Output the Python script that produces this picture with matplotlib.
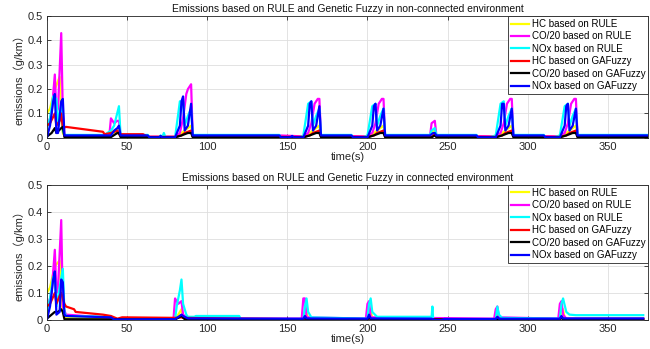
import matplotlib
matplotlib.use("Agg")
import matplotlib.pyplot as plt

plt.rcParams['font.family'] = ['Liberation Sans', 'Noto Sans CJK SC']

# (time s, value g/km) breakpoints
# ---- non-connected environment ----
hc_rule_nc = [(0, .10), (2, .12), (5, .20), (8, .25), (9, .08), (10, .02), (11, .008), (39, .008), (40, .03), (43, .02),
              (45, .04), (46, .008), (63, .004), (80, .004), (84, .02), (86, .03), (88, .04), (90, .05), (91, .006),
              (145, .006), (160, .004), (164, .02), (166, .03), (168, .04), (170, .05), (171, .006), (199, .004),
              (204, .02), (206, .03), (208, .04), (210, .05), (211, .006), (239, .006), (241, .03), (242, .04),
              (243, .006), (279, .004), (284, .02), (286, .03), (288, .04), (290, .05), (291, .006), (319, .004),
              (324, .02), (326, .03), (328, .04), (330, .05), (331, .006), (375, .006)]
co2_rule_nc = [(0, .05), (1, .06), (3, .10), (5, .26), (6, .10), (7, .12), (9, .43), (10, .10), (11, .01), (39, .01),
               (40, .08), (42, .06), (44, .07), (45, .07), (46, .01), (63, .005), (80, .005), (83, .02), (85, .08),
               (87, .18), (88, .20), (90, .22), (91, .01), (145, .01), (160, .006), (163, .02), (165, .06), (167, .14),
               (169, .16), (170, .16), (171, .01), (199, .006), (203, .02), (205, .06), (207, .14), (209, .16),
               (210, .16), (211, .01), (239, .006), (240, .06), (242, .07), (243, .01), (279, .006), (283, .02),
               (285, .06), (287, .14), (289, .16), (290, .16), (291, .01), (319, .006), (323, .02), (325, .06),
               (327, .14), (329, .16), (330, .16), (331, .01), (375, .01)]
nox_rule_nc = [(0, .04), (2, .08), (4, .17), (6, .16), (7, .06), (9, .14), (10, .03), (11, .012), (36, .012), (40, .03),
               (42, .05), (45, .13), (46, .012), (63, .012), (64, .002), (70, .002), (71, .01), (72, .002), (73, .02),
               (74, .002), (80, .002), (82, .10), (83, .15), (85, .15), (86, .05), (88, .09), (90, .12), (91, .012),
               (145, .012), (146, .002), (158, .002), (160, .01), (163, .14), (165, .15), (166, .05), (168, .09),
               (170, .12), (171, .012), (190, .012), (191, .002), (197, .002), (200, .01), (203, .13), (205, .14),
               (206, .05), (208, .09), (210, .12), (211, .012), (239, .012), (240, .03), (242, .04), (243, .012),
               (268, .012), (269, .002), (276, .002), (280, .01), (283, .14), (285, .15), (286, .05), (288, .09),
               (290, .12), (291, .012), (310, .012), (311, .002), (316, .002), (320, .01), (323, .13), (325, .14),
               (326, .05), (328, .09), (330, .12), (331, .012), (375, .012)]
hc_ga_nc = [(0, .05), (2, .06), (5, .10), (6, .05), (8, .07), (9, .10), (10, .04), (12, .045), (35, .025), (36, .015),
            (40, .02), (44, .03), (45, .015), (60, .015), (63, .004), (80, .004), (84, .01), (86, .02), (88, .025),
            (90, .03), (91, .005), (160, .004), (164, .01), (166, .02), (168, .025), (170, .03), (171, .005),
            (200, .004), (204, .01), (206, .02), (208, .025), (210, .03), (211, .005), (240, .004), (242, .015),
            (243, .005), (280, .004), (284, .01), (286, .02), (288, .025), (290, .03), (291, .005), (320, .004),
            (324, .01), (326, .02), (328, .025), (330, .03), (331, .005), (375, .005)]
co2_ga_nc = [(0, .005), (3, .02), (5, .04), (6, .02), (9, .04), (10, .045), (11, .003), (40, .003), (44, .02), (45, .02),
             (46, .003), (80, .002), (84, .01), (88, .02), (90, .02), (91, .003), (160, .002), (164, .01), (168, .02),
             (170, .02), (171, .003), (200, .002), (204, .01), (208, .02), (210, .02), (211, .003), (240, .002),
             (242, .01), (243, .003), (280, .002), (284, .01), (288, .02), (290, .02), (291, .003), (320, .002),
             (324, .01), (328, .02), (330, .02), (331, .003), (375, .003)]
nox_ga_nc = [(0, .0), (2, .05), (4, .15), (5, .18), (6, .02), (7, .02), (9, .15), (10, .16), (11, .01), (40, .01),
             (42, .03), (44, .04), (45, .05), (46, .01), (63, .01), (64, .002), (70, .002), (71, .008), (72, .002),
             (80, .002), (83, .05), (84, .15), (85, .17), (86, .03), (88, .05), (90, .14), (91, .01), (145, .01),
             (146, .002), (152, .002), (153, .008), (154, .002), (160, .002), (163, .05), (164, .14), (165, .15),
             (166, .03), (168, .05), (170, .13), (171, .01), (190, .01), (191, .002), (200, .002), (203, .05),
             (204, .13), (205, .14), (206, .03), (208, .05), (210, .12), (211, .01), (239, .01), (241, .02), (242, .02),
             (243, .01), (268, .01), (269, .002), (280, .002), (283, .05), (284, .14), (285, .14), (286, .03),
             (288, .05), (290, .12), (291, .01), (310, .01), (311, .002), (320, .002), (323, .05), (324, .13),
             (325, .14), (326, .03), (328, .05), (330, .12), (331, .01), (375, .01)]

# ---- connected environment ----
hc_rule_c = [(0, .10), (2, .12), (5, .20), (8, .22), (9, .08), (10, .03), (12, .01), (40, .008), (44, .003), (80, .003),
             (82, .02), (84, .04), (85, .01), (88, .005), (160, .003), (161, .02), (162, .03), (163, .005), (200, .003),
             (201, .02), (202, .04), (203, .005), (280, .003), (281, .02), (282, .005), (320, .003), (321, .03),
             (322, .04), (323, .005), (372, .005)]
co2_rule_c = [(0, .05), (1, .06), (3, .10), (5, .26), (6, .10), (7, .12), (9, .37), (10, .05), (12, .02), (40, .008),
              (44, .003), (79, .003), (80, .08), (82, .06), (84, .07), (85, .02), (88, .005), (159, .005), (160, .08),
              (161, .08), (162, .01), (199, .005), (200, .06), (201, .07), (202, .01), (279, .005), (280, .04),
              (281, .05), (282, .01), (319, .005), (320, .06), (321, .07), (322, .02), (324, .005), (372, .005)]
nox_rule_c = [(0, .03), (2, .08), (4, .16), (5, .16), (6, .05), (8, .12), (10, .19), (11, .03), (12, .015), (40, .012),
              (42, .002), (80, .002), (81, .05), (83, .11), (84, .15), (85, .06), (87, .02), (88, .012), (92, .012),
              (93, .015), (120, .015), (121, .003), (160, .003), (161, .05), (162, .08), (163, .03), (165, .01),
              (200, .005), (201, .06), (202, .08), (203, .03), (206, .012), (240, .012), (240.5, .05), (241, .002),
              (280, .003), (281, .05), (282, .02), (284, .008), (320, .005), (321, .06), (322, .08), (324, .03),
              (326, .02), (330, .018), (372, .018)]
hc_ga_c = [(0, .05), (2, .06), (5, .10), (6, .06), (8, .09), (9, .10), (11, .06), (12, .05), (17, .04), (18, .03),
           (35, .02), (40, .015), (44, .005), (47, .01), (80, .008), (84, .01), (85, .008), (120, .005), (160, .003),
           (161, .01), (162, .003), (200, .003), (201, .01), (202, .003), (280, .003), (281, .01), (282, .003),
           (320, .003), (321, .012), (322, .003), (372, .003)]
co2_ga_c = [(0, .005), (3, .02), (5, .03), (7, .03), (9, .04), (10, .03), (11, .003), (80, .002), (84, .015), (86, .003),
            (160, .002), (161, .01), (162, .002), (200, .002), (201, .01), (202, .002), (320, .002), (321, .01),
            (322, .002), (372, .002)]
nox_ga_c = [(0, .0), (2, .05), (4, .15), (5, .18), (6, .02), (8, .03), (9, .15), (10, .14), (11, .02), (12, .015),
            (40, .01), (42, .002), (80, .003), (84, .02), (85, .015), (88, .006), (160, .005), (161, .015), (162, .006),
            (200, .005), (201, .02), (202, .006), (240, .005), (242, .0), (246, .0), (248, .004), (280, .004),
            (281, .012), (282, .005), (320, .005), (321, .015), (322, .006), (372, .006)]

labels = ["HC based on RULE", "CO/20 based on RULE", "NOx based on RULE",
          "HC based on GAFuzzy", "CO/20 based on GAFuzzy", "NOx based on GAFuzzy"]
colors = ["#ffff00", "#ff00ff", "#00ffff", "#ff0000", "#000000", "#0000ff"]

panels = [
    ("Emissions based on RULE and Genetic Fuzzy in non-connected environment",
     [hc_rule_nc, co2_rule_nc, nox_rule_nc, hc_ga_nc, co2_ga_nc, nox_ga_nc]),
    ("Emissions based on RULE and Genetic Fuzzy in connected environment",
     [hc_rule_c, co2_rule_c, nox_rule_c, hc_ga_c, co2_ga_c, nox_ga_c]),
]

fig = plt.figure(figsize=(6.5, 3.49), dpi=100)
ax1 = fig.add_axes([0.072, 0.605, 0.925, 0.349])
ax2 = fig.add_axes([0.072, 0.083, 0.925, 0.387])

edge = "#262626"
for ax, (title, series) in zip([ax1, ax2], panels):
    for data, c, lab in zip(series, colors, labels):
        t, y = zip(*data)
        ax.plot(t, y, color=c, lw=1.6, label=lab)
    ax.set_xlim(0, 375)
    ax.set_ylim(0, 0.5)
    ax.set_xticks([0, 50, 100, 150, 200, 250, 300, 350])
    ax.set_yticks([0, 0.1, 0.2, 0.3, 0.4, 0.5])
    ax.set_yticklabels(["0", "0.1", "0.2", "0.3", "0.4", "0.5"])
    ax.grid(True, color="#dedede", lw=0.6)
    ax.set_axisbelow(True)
    ax.tick_params(direction="in", length=3, width=0.6, colors=edge, labelsize=8,
                   top=True, right=True, pad=3)
    for sp in ax.spines.values():
        sp.set_color(edge)
        sp.set_linewidth(0.6)
    ax.set_title(title, fontsize=7.4, pad=3, color="#111111")
    ax.set_xlabel("time(s)", fontsize=8, labelpad=0, color=edge)
    ax.set_ylabel("emissions（g/km）", fontsize=8, labelpad=2, color=edge)
    leg = ax.legend(loc="upper right", fontsize=7, borderaxespad=0, handlelength=1.8,
                    labelspacing=0.25, handletextpad=0.3, borderpad=0.3, fancybox=False,
                    framealpha=1)
    leg.get_frame().set_edgecolor(edge)
    leg.get_frame().set_linewidth(0.6)

fig.savefig("out.png", dpi=100)
